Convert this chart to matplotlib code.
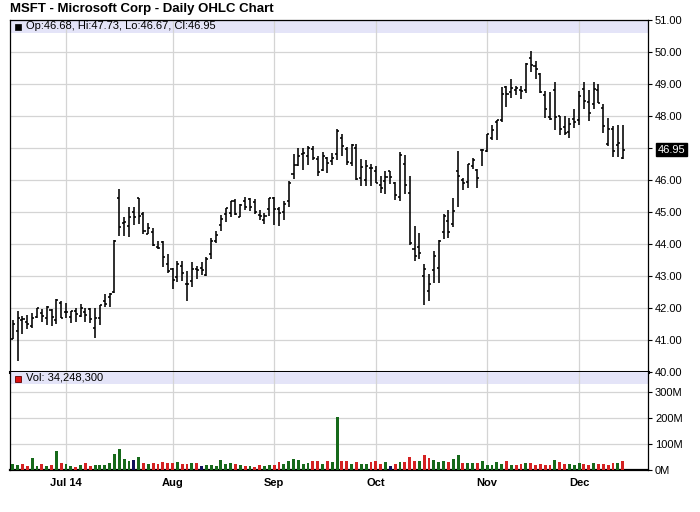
import matplotlib
matplotlib.use('Agg')
import matplotlib.pyplot as plt
import matplotlib.transforms as mtransforms
from matplotlib.collections import LineCollection
from matplotlib.patches import Rectangle
import numpy as np
import pandas as pd

plt.rcParams['font.family'] = ['Liberation Sans', 'DejaVu Sans']

# ---------------- data ----------------
holidays = ['2014-07-04', '2014-09-01', '2014-11-27']
dates = [d for d in pd.bdate_range('2014-06-16', '2014-12-12') if d.strftime('%Y-%m-%d') not in holidays]

opens = [41.04, 41.29, 41.61, 41.57, 41.45, 41.73, 41.83, 41.70, 41.93, 41.61,
         42.17, 41.86, 41.73, 41.91, 41.75, 41.87, 41.98, 41.37, 41.70, 42.22,
         42.33, 42.51, 45.45, 44.65, 44.56, 45.00, 45.45, 44.93, 44.30, 44.36,
         43.91, 44.07, 43.38, 43.21, 42.97, 43.31, 42.74, 42.84, 43.23, 43.26,
         43.04, 43.68, 44.08, 44.58, 44.94, 44.97, 45.34, 44.84, 45.35, 45.40,
         45.31, 44.90, 44.75, 45.09, 45.43, 45.10, 45.00, 45.34, 46.18, 46.47,
         46.82, 46.75, 46.98, 46.66, 46.30, 46.69, 46.60, 46.80, 47.30, 46.98,
         46.52, 47.00, 46.05, 46.00, 46.37, 46.27, 45.83, 45.98, 46.27, 45.90,
         45.48, 46.50, 45.60, 43.83, 43.90, 43.00, 42.53, 43.20, 43.25, 44.36,
         44.73, 44.62, 46.27, 45.99, 45.95, 46.44, 46.30, 46.95, 46.92, 47.30,
         47.80, 47.86, 48.92, 48.75, 48.82, 48.80, 48.80, 49.80, 49.55, 49.30,
         48.66, 47.98, 48.80, 47.99, 47.66, 47.49, 47.92, 47.88, 48.84, 48.44,
         48.39, 48.82, 48.26, 47.11, 47.58, 47.08, 46.68]
highs = [41.61, 41.91, 41.74, 41.77, 41.83, 42.00, 41.98, 42.05, 41.96, 42.29,
         42.21, 42.15, 41.90, 41.99, 42.12, 42.00, 41.99, 42.00, 42.09, 42.45,
         42.47, 44.13, 45.71, 44.84, 45.16, 45.15, 45.45, 45.00, 44.66, 44.51,
         44.10, 44.10, 43.69, 43.25, 43.47, 43.46, 43.17, 43.45, 43.32, 43.45,
         43.59, 44.18, 44.42, 44.90, 45.11, 45.34, 45.40, 45.25, 45.47, 45.44,
         45.40, 45.05, 44.98, 45.44, 45.46, 45.15, 45.33, 45.96, 46.82, 47.00,
         47.00, 47.05, 47.05, 46.76, 46.86, 46.72, 46.84, 47.59, 47.45, 47.03,
         47.13, 47.13, 46.65, 46.61, 46.51, 46.43, 46.11, 46.28, 46.28, 45.94,
         46.88, 46.78, 46.12, 44.55, 44.35, 43.37, 43.06, 43.79, 44.14, 44.94,
         45.05, 45.44, 46.91, 46.07, 46.49, 46.68, 46.33, 46.96, 47.45, 47.72,
         47.87, 48.90, 48.93, 49.15, 48.93, 48.95, 49.65, 50.04, 49.73, 49.34,
         48.77, 48.74, 49.05, 48.01, 48.01, 47.94, 48.22, 48.77, 49.05, 48.80,
         49.05, 49.01, 48.38, 47.94, 47.70, 47.73, 47.73]
lows = [41.04, 40.34, 41.18, 41.33, 41.38, 41.69, 41.56, 41.46, 41.43, 41.51,
        41.70, 41.69, 41.53, 41.56, 41.71, 41.57, 41.53, 41.05, 41.48, 42.04,
        42.03, 42.48, 44.25, 44.25, 44.22, 44.59, 44.62, 44.32, 44.30, 43.93,
        43.85, 43.29, 43.08, 42.60, 42.81, 42.83, 42.21, 42.65, 42.91, 43.02,
        43.00, 43.52, 44.02, 44.40, 44.68, 44.83, 44.90, 44.83, 45.07, 45.04,
        44.94, 44.75, 44.61, 44.86, 44.60, 44.55, 44.76, 45.15, 46.03, 46.45,
        46.30, 46.48, 46.63, 46.11, 46.27, 46.22, 46.48, 46.61, 46.76, 46.48,
        46.43, 46.00, 45.80, 45.80, 45.80, 45.90, 45.60, 45.57, 45.88, 45.39,
        45.34, 45.57, 43.96, 43.48, 43.54, 42.10, 42.22, 42.78, 42.78, 44.17,
        44.19, 44.52, 45.15, 45.70, 45.76, 46.33, 45.76, 46.44, 46.89, 47.24,
        47.24, 47.80, 48.28, 48.56, 48.66, 48.53, 48.72, 49.39, 49.15, 48.72,
        47.94, 47.88, 47.57, 47.42, 47.42, 47.31, 47.62, 47.73, 48.22, 47.83,
        48.22, 48.40, 47.47, 47.07, 46.72, 46.72, 46.67]
closes = [41.50, 41.68, 41.65, 41.51, 41.68, 41.99, 41.75, 42.03, 41.72, 42.25,
          41.70, 41.87, 41.90, 41.80, 41.99, 41.78, 41.67, 41.69, 42.09, 42.14,
          42.45, 44.08, 44.53, 44.69, 44.84, 44.84, 44.87, 44.40, 44.50, 43.97,
          43.89, 43.58, 43.16, 42.86, 43.37, 43.08, 42.74, 43.23, 43.20, 43.20,
          43.52, 44.08, 44.27, 44.79, 45.11, 45.33, 44.95, 45.22, 45.15, 45.17,
          45.01, 44.87, 44.88, 45.43, 45.09, 44.96, 45.26, 45.91, 46.47, 46.76,
          46.84, 47.00, 46.70, 46.24, 46.76, 46.52, 46.68, 47.52, 47.06, 46.56,
          47.08, 46.04, 46.41, 46.44, 46.36, 45.90, 45.76, 46.09, 46.09, 45.53,
          46.78, 45.85, 44.03, 43.63, 43.73, 43.22, 42.74, 43.63, 44.08, 44.88,
          44.38, 45.02, 46.13, 45.91, 46.49, 46.62, 46.05, 46.95, 47.44, 47.57,
          47.86, 48.70, 48.68, 48.89, 48.87, 48.78, 49.61, 49.58, 49.46, 48.74,
          48.22, 47.92, 47.98, 47.59, 47.47, 47.75, 47.81, 48.62, 48.46, 48.08,
          48.84, 48.42, 47.70, 47.59, 46.90, 47.17, 46.95]
volumes_m = [25, 19, 23, 15, 46, 15, 23, 15, 19, 73,
             27, 23, 15, 12, 19, 27, 15, 19, 19, 19,
             27, 62, 81, 42, 35, 38, 49, 27, 23, 27,
             23, 31, 27, 27, 31, 23, 23, 27, 27, 15,
             19, 19, 15, 38, 23, 27, 23, 19, 15, 15,
             12, 19, 15, 19, 19, 31, 23, 35, 42, 38,
             23, 27, 35, 35, 23, 35, 31, 203, 35, 35,
             23, 31, 23, 23, 31, 35, 23, 31, 15, 23,
             31, 31, 49, 35, 35, 58, 46, 38, 31, 35,
             31, 42, 58, 27, 27, 27, 27, 35, 19, 19,
             31, 23, 35, 19, 19, 23, 27, 27, 19, 23,
             19, 19, 38, 31, 23, 23, 19, 27, 23, 19,
             27, 23, 23, 19, 27, 27, 34]

month_labels = ['Jul 14', 'Aug', 'Sep', 'Oct', 'Nov', 'Dec']
month_starts = ['2014-07-01', '2014-08-01', '2014-09-02', '2014-10-01', '2014-11-03', '2014-12-01']
price_ticks = [40, 41, 42, 43, 44, 45, 46, 47, 48, 49, 50, 51]
vol_ticks_m = [0, 100, 200, 300]
last_volume = 34248300

# ---------------- figure ----------------
W, H = 700, 512
fig = plt.figure(figsize=(W / 100, H / 100), dpi=100)
fig.patch.set_facecolor('white')

def box(l, t, r, b):
    return [l / W, 1 - b / H, (r - l) / W, (b - t) / H]

X_LEFT, X_RIGHT = 10, 648
AXW = X_RIGHT - X_LEFT
ax = fig.add_axes(box(X_LEFT, 20, X_RIGHT, 372))
axv = fig.add_axes(box(X_LEFT, 372, X_RIGHT, 470))

n = len(closes)
x = np.arange(n)
date_strs = [d.strftime('%Y-%m-%d') for d in dates]
month_pos = [date_strs.index(m) for m in month_starts]

px_per_bar = 4.84
x0 = (X_LEFT - 12.8) / px_per_bar
x1 = (X_RIGHT - 12.8) / px_per_bar

grid_c = '#d4d4d4'

# price panel
ax.set_xlim(x0, x1)
ax.set_ylim(40, 51)
ax.axhspan(50.59, 51, color='#e4e4f8', zorder=0.5, lw=0)
for p in price_ticks:
    ax.axhline(p, color=grid_c, lw=0.9, zorder=1)
for m in month_pos:
    ax.axvline(m, color=grid_c, lw=0.9, zorder=1)

segs = []
tw = 0.42
for i in range(n):
    segs.append([(i, lows[i]), (i, highs[i])])
    segs.append([(i - tw, opens[i]), (i, opens[i])])
    segs.append([(i, closes[i]), (i + tw, closes[i])])
ax.add_collection(LineCollection(segs, colors='black', linewidths=1.15, capstyle='butt', zorder=3))

last = closes[-1]
ax.yaxis.tick_right()
ax.set_yticks(price_ticks)
# the tick label nearest the last price is covered by the last-price box
ax.set_yticklabels(['' if abs(p - last) < 0.3 else '%.2f' % p for p in price_ticks], fontsize=8)
ax.tick_params(axis='y', length=3, width=0.8, pad=2, colors='black')
ax.set_xticks([])
for s in ['left', 'right', 'top']:
    ax.spines[s].set_linewidth(0.9)
ax.spines['bottom'].set_linewidth(2.2)

# last-price box
trans = mtransforms.blended_transform_factory(ax.transAxes, ax.transData)
ax.text(1.0 + 10 / AXW, last, '%.2f' % last, transform=trans,
        fontsize=8, color='white', va='center', ha='left', zorder=10,
        bbox=dict(boxstyle='square,pad=0.15', fc='black', ec='black'))

# header text (price)
ax.text(16 / AXW, 50.80,
        'Op:%.2f, Hi:%.2f, Lo:%.2f, Cl:%.2f' % (opens[-1], highs[-1], lows[-1], closes[-1]),
        transform=trans, fontsize=8, va='center', ha='left', zorder=5)
fig.add_artist(Rectangle((15 / W, 1 - 30 / H), 6 / W, 6 / H, transform=fig.transFigure,
                         fc='black', ec='black', lw=0.5))

# volume panel
vmax = 377
axv.set_xlim(x0, x1)
axv.set_ylim(0, vmax)
axv.axhspan(331, vmax, color='#e4e4f8', zorder=0.5, lw=0)
for v in vol_ticks_m[1:]:
    axv.axhline(v, color=grid_c, lw=0.9, zorder=1)
for m in month_pos:
    axv.axvline(m, color=grid_c, lw=0.9, zorder=1)

colors = []
for i in range(n):
    if i == 0 or closes[i] > closes[i - 1]:
        colors.append('#16691a')
    elif closes[i] < closes[i - 1]:
        colors.append('#d42222')
    else:
        colors.append('#10105a')
axv.bar(x, volumes_m, width=0.6, color=colors, zorder=3)

axv.yaxis.tick_right()
axv.set_yticks(vol_ticks_m)
axv.set_yticklabels(['%dM' % v for v in vol_ticks_m], fontsize=8)
axv.tick_params(axis='y', length=3, width=0.8, pad=2)
axv.set_xticks(month_pos)
axv.set_xticklabels(month_labels, fontsize=8, fontweight='bold')
axv.tick_params(axis='x', length=0, pad=6)
for s in ['left', 'right', 'top']:
    axv.spines[s].set_linewidth(0.9)
axv.spines['top'].set_visible(False)
axv.spines['bottom'].set_linewidth(1.6)

transv = mtransforms.blended_transform_factory(axv.transAxes, axv.transData)
axv.text(16 / AXW, 354, 'Vol: {:,}'.format(last_volume), transform=transv,
         fontsize=8, va='center', ha='left', zorder=5)
fig.add_artist(Rectangle((15 / W, 1 - 382 / H), 6 / W, 6 / H, transform=fig.transFigure,
                         fc='#dd1111', ec='#600000', lw=0.6))

# title
fig.text(10 / W, 1 - 9 / H, 'MSFT - Microsoft Corp - Daily OHLC Chart', fontsize=9.5,
         fontweight='bold', va='center', ha='left')

fig.savefig('out.png', dpi=100)
